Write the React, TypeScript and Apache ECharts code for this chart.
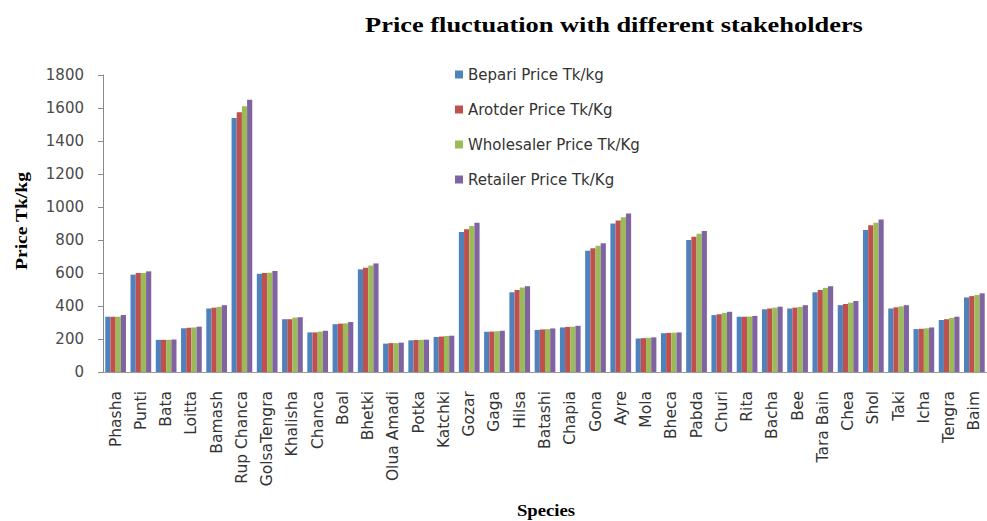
import React, { useEffect, useRef } from "react";
import * as echarts from "echarts";

const categories = ["Phasha","Punti","Bata","Loitta","Bamash","Rup Chanca","GolsaTengra","Khalisha","Chanca","Boal","Bhetki","Olua Amadi","Potka","Katchki","Gozar","Gaga","Hilsa","Batashi","Chapia","Gona","Ayre","Mola","Bheca","Pabda","Churi","Rita","Bacha","Bee","Tara Bain","Chea","Shol","Taki","Icha","Tengra","Baim"];

const bepari = [335,590,195,265,385,1540,595,320,240,290,622,172,192,212,848,244,483,255,270,735,900,203,235,800,345,335,380,385,483,405,860,385,260,315,452];
const arotder = [335,600,195,268,390,1575,600,320,240,293,632,175,194,215,865,245,497,258,273,750,918,205,237,820,350,335,385,390,497,412,890,392,262,320,460];
const wholesaler = [335,600,195,270,395,1610,602,330,245,295,645,175,195,218,885,247,512,260,275,765,938,207,238,838,358,336,390,395,510,420,905,398,265,328,467];
const retailer = [345,610,197,275,405,1650,612,332,250,303,658,178,196,220,905,250,520,264,280,780,960,210,240,855,365,340,396,405,520,430,925,405,270,335,477];

const seriesNames = ["Bepari Price Tk/kg", "Arotder Price Tk/Kg", "Wholesaler Price Tk/Kg", "Retailer Price Tk/Kg"];
const seriesColors = ["#4F81BD", "#C0504D", "#9BBB59", "#8064A2"];

export default function App() {
  const ref = useRef<HTMLDivElement>(null);
  useEffect(() => {
    if (!ref.current) return;
    const chart = echarts.init(ref.current, null, { renderer: "svg" });
    const data = [bepari, arotder, wholesaler, retailer];
    chart.setOption({
      animation: false,
      backgroundColor: "#ffffff",
      legend: {
        orient: "vertical",
        left: 455,
        top: 67,
        padding: 0,
        itemWidth: 8,
        itemHeight: 8,
        itemGap: 20,
        icon: "rect",
        textStyle: { fontFamily: "DejaVu Sans", fontSize: 15, color: "#333" },
        data: seriesNames,
      },
      graphic: [
        {
          type: "text",
          x: 614,
          y: 24,
          scaleX: 1.2,
          style: {
            text: "Price fluctuation with different stakeholders",
            font: "bold 22px 'Liberation Serif'",
            fill: "#000",
            align: "center",
            verticalAlign: "middle",
          },
        },
        {
          type: "text",
          x: 21,
          y: 221,
          rotation: Math.PI / 2,
          scaleX: 1.15,
          style: {
            text: "Price Tk/kg",
            font: "bold 17px 'Liberation Serif'",
            fill: "#000",
            align: "center",
            verticalAlign: "middle",
          },
        },
        {
          type: "text",
          x: 546,
          y: 510,
          scaleX: 1.1,
          style: {
            text: "Species",
            font: "bold 17px 'Liberation Serif'",
            fill: "#000",
            align: "center",
            verticalAlign: "middle",
          },
        },
      ],
      grid: { left: 103, right: -8, top: 75, bottom: 149, containLabel: false },
      xAxis: {
        type: "category",
        data: categories,
        axisLine: { show: true, lineStyle: { color: "#9A9A9A", width: 1 } },
        axisTick: { show: false },
        axisLabel: {
          interval: 0,
          rotate: 90,
          margin: 19,
          fontFamily: "DejaVu Sans",
          fontSize: 15.5,
          color: "#333",
        },
      },
      yAxis: {
        type: "value",
        min: 0,
        max: 1800,
        interval: 200,
        axisLine: { show: true, lineStyle: { color: "#8A8A8A", width: 1 } },
        axisTick: { show: true, length: 5, lineStyle: { color: "#8A8A8A" } },
        splitLine: { show: false },
        axisLabel: {
          margin: 19,
          fontFamily: "DejaVu Sans",
          fontSize: 15,
          color: "#4a4a4a",
          formatter: (v: number) => String(v),
        },
      },
      series: seriesNames.map((name, i) => ({
        name,
        type: "bar",
        data: data[i],
        barGap: "0%",
        barCategoryGap: "18%",
        itemStyle: { color: seriesColors[i] },
      })),
    });
    return () => chart.dispose();
  }, []);
  return (
    <div
      ref={ref}
      style={{ position: "fixed", left: 0, top: 0, width: 987, height: 521 }}
    />
  );
}
